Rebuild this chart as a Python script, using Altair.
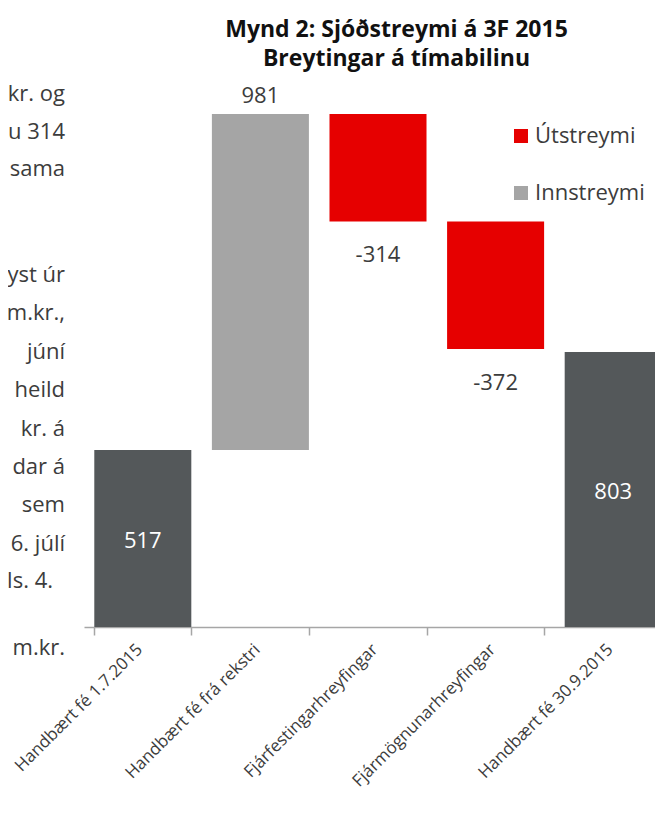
import altair as alt
import pandas as pd

categories = ["Handbært fé 1.7.2015", "Handbært fé frá rekstri", "Fjárfestingarhreyfingar",
              "Fjármögnunarhreyfingar", "Handbært fé 30.9.2015"]
values = [517, 981, -314, -372, 803]
kinds = ["Heild", "Innstreymi", "Útstreymi", "Útstreymi", "Heild"]
legend_entries = ["Útstreymi", "Innstreymi"]
title_lines = ["Mynd 2: Sjóðstreymi á 3F 2015", "Breytingar á tímabilinu"]
side_text_1 = ["kr. og", "u 314", "sama"]
side_text_2 = ["yst úr", "m.kr.,", "júní", "heild", "kr.  á", "dar á", "sem", "6. júlí"]
side_text_3 = ["ls. 4."]
side_text_4 = ["m.kr."]

rows = []
running = 0
for c, v, k in zip(categories, values, kinds):
    if k == "Heild":
        start, end = 0, v
        running = v
    else:
        start, end = running, running + v
        running = end
    rows.append(dict(cat=c, value=v, kind=k, start=start, end=end,
                     mid=(start + end) / 2, label=str(v)))
df = pd.DataFrame(rows)
one = pd.DataFrame({"k": [0]})

FONT = "Open Sans"
TXT = "#3c3c3c"

x = alt.X("cat:N", sort=categories, title=None,
          scale=alt.Scale(range=[0, 588], paddingInner=0.175, paddingOuter=0.0875),
          axis=alt.Axis(labelAngle=-45, labelFontSize=17, labelFont=FONT, labelColor=TXT,
                        domainColor="#a6a6a6", tickColor="#a6a6a6", tickSize=8,
                        tickBand="extent", tickOffset=-10.3,
                        labelPadding=6, labelOffset=-9, labelLimit=400,
                        domainWidth=1.5, tickWidth=1.5))
yscale = alt.Scale(domain=[0, 1600])

base = alt.Chart(df)

totals = base.transform_filter(alt.datum.kind == "Heild").mark_bar(color="#54585A").encode(
    x=x, y=alt.Y("start:Q", scale=yscale, axis=None), y2="end:Q")

flows = base.transform_filter(alt.datum.kind != "Heild").mark_bar().encode(
    x=x, y=alt.Y("start:Q", scale=yscale, axis=None), y2="end:Q",
    color=alt.Color("kind:N",
                    scale=alt.Scale(domain=legend_entries, range=["#E60000", "#A5A5A5"]),
                    legend=alt.Legend(title=None, orient="none", legendX=426, legendY=46,
                                      symbolType="square", symbolSize=196, symbolStrokeWidth=0,
                                      labelFont=FONT, labelFontSize=22, labelColor=TXT,
                                      rowPadding=35, labelOffset=3)))

pos_labels = base.transform_filter(alt.datum.kind == "Innstreymi").mark_text(
    font=FONT, fontSize=22, color=TXT, baseline="middle", dy=-18).encode(
    x=x, y=alt.Y("end:Q", scale=yscale), text="label:N")

neg_labels = base.transform_filter(alt.datum.kind == "Útstreymi").mark_text(
    font=FONT, fontSize=22, color=TXT, baseline="middle", dy=34).encode(
    x=x, y=alt.Y("end:Q", scale=yscale), text="label:N")

tot_labels = base.transform_filter(alt.datum.kind == "Heild").mark_text(
    font=FONT, fontSize=22, color="white", baseline="middle", dy=3).encode(
    x=x, y=alt.Y("mid:Q", scale=yscale), text="label:N")

side_style = dict(align="right", baseline="alphabetic", font=FONT, fontSize=22, color=TXT)
side1 = alt.Chart(one).mark_text(text=side_text_1, lineHeight=37.5, **side_style).encode(
    x=alt.value(-19), y=alt.value(22))
side2 = alt.Chart(one).mark_text(text=side_text_2, lineHeight=38.4, **side_style).encode(
    x=alt.value(-19), y=alt.value(203))
side3 = alt.Chart(one).mark_text(text=side_text_3, **side_style).encode(
    x=alt.value(-31), y=alt.value(509))
side4 = alt.Chart(one).mark_text(text=side_text_4, **side_style).encode(
    x=alt.value(-19), y=alt.value(576))

chart = alt.layer(totals, flows, pos_labels, neg_labels, tot_labels,
                  side1, side2, side3, side4).properties(
    width=571, height=548,
    title=alt.Title(title_lines, anchor="middle", dx=27, fontSize=23, font="Open Sans",
                    fontWeight="bold", color="#111111", lineHeight=29, offset=8),
    autosize=alt.AutoSizeParams(type="none"),
    padding={"left": 76, "top": 71, "right": 0, "bottom": 188},
).configure_view(stroke=None)

chart.save("out.html", embed_options={"renderer": "svg", "actions": False})
